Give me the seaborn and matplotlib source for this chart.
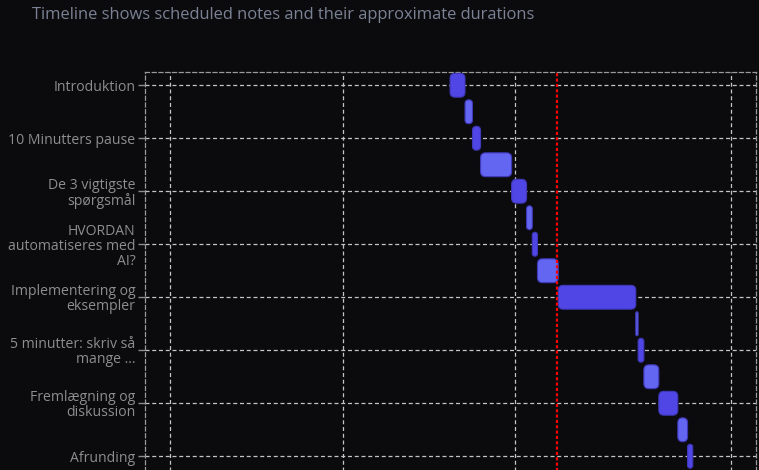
import matplotlib
matplotlib.use('Agg')
import matplotlib.pyplot as plt
from matplotlib.patches import FancyBboxPatch
import seaborn as sns

# rows of the timeline (top to bottom), start + duration in minutes
rows = list(range(15))
starts = [48.7, 51.3, 52.6, 54.0, 59.4, 62.0, 63.0, 63.9, 67.5, 81.0, 81.4, 82.4, 85.0, 88.3, 90.0]
durations = [2.6, 1.3, 1.4, 5.4, 2.6, 1.0, 0.9, 3.6, 13.5, 0.4, 1.0, 2.6, 3.3, 1.7, 0.9]

label_rows = [0, 2, 4, 6, 8, 10, 12, 14]
labels = ["Introduktion", "10 Minutters pause", "De 3 vigtigste\nspørgsmål",
          "HVORDAN\nautomatiseres med\nAI?", "Implementering og\neksempler",
          "5 minutter: skriv så\nmange ...", "Fremlægning og\ndiskussion", "Afrunding"]

grid_ticks = [0, 30, 60, 97.5]
now_marker = 67.25
x_range = (-4.35, 101.9)

bg = "#0b0b0e"
sns.set_theme(style="dark", rc={"figure.facecolor": bg, "axes.facecolor": bg})
plt.rcParams['font.family'] = ['Open Sans', 'DejaVu Sans']

fig = plt.figure(figsize=(7.59, 4.70), dpi=100)
ax = fig.add_axes([145 / 759, 1 - 72 / 470 - 410.75 / 470, 611 / 759, 410.75 / 470])

sns.barplot(x=durations, y=rows, left=starts, orient="h", width=0.9,
            errorbar=None, color="#4f46e5", ax=ax, zorder=3)

# swap the plain rectangles for rounded boxes
px_x = 5.75   # px per minute
px_y = 26.5   # px per row
aspect = px_x / px_y
for i, rect in enumerate(list(ax.patches)):
    x0, y0 = rect.get_x(), rect.get_y()
    w, h = rect.get_width(), rect.get_height()
    r = min(5 / px_x, w / 2)
    face = "#4f46e5" if i % 2 == 0 else "#6366f1"
    box = FancyBboxPatch((x0, y0), w, h,
                         boxstyle=f"round,pad=0,rounding_size={r}",
                         mutation_aspect=aspect, facecolor=face,
                         edgecolor="#3f38b8", linewidth=0.8, zorder=3)
    rect.remove()
    ax.add_patch(box)

ax.axvline(now_marker, color="#ff0000", linestyle=(0, (1.4, 1.0)), linewidth=1.6, zorder=5)

ax.set_xlim(*x_range)
ax.set_ylim(15.0, -0.5)
ax.set_xticks(grid_ticks)
ax.set_yticks(label_rows)
ax.set_yticklabels(labels, fontsize=10.1, color="#8e8e8e", linespacing=1.0)
ax.tick_params(axis="y", length=5, width=1, color="#8c8c8c", pad=2, left=True)
ax.tick_params(axis="x", length=0, labelbottom=False)
ax.set_xlabel("")
ax.set_ylabel("")

ax.grid(True, color="#c4c4c4", linestyle=(0, (3.2, 2.2)), linewidth=0.9, zorder=0)
ax.set_axisbelow(True)
for side in ["left", "top", "right", "bottom"]:
    ax.spines[side].set_visible(True)
    ax.spines[side].set_color("#9a9a9a")
    ax.spines[side].set_linestyle((0, (3.2, 2.2)))
    ax.spines[side].set_linewidth(0.9)

fig.text(32 / 759, 1 - 15 / 470, "Timeline shows scheduled notes and their approximate durations",
         ha="left", va="center", fontsize=11.9, color="#7b8294")

fig.savefig("out.png", dpi=100, facecolor=bg)
